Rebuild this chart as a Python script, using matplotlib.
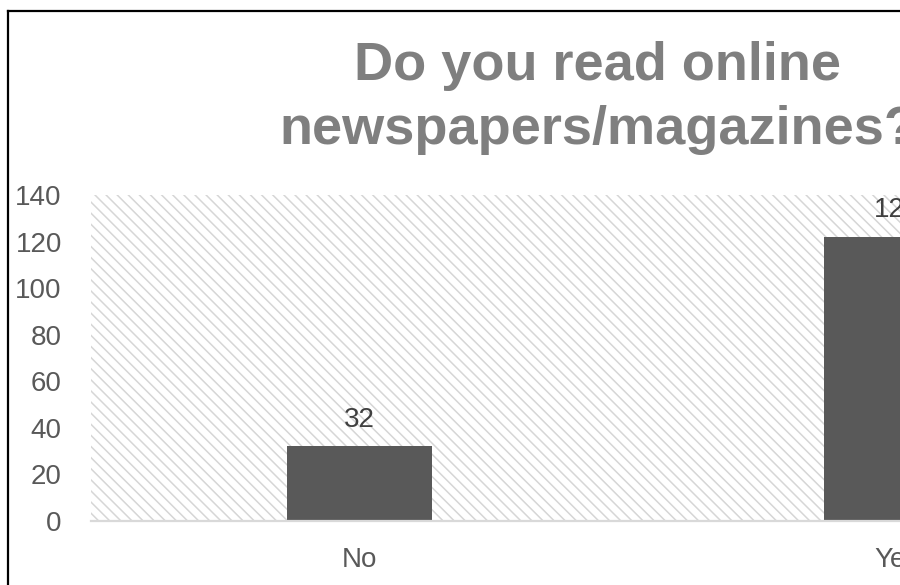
import matplotlib
matplotlib.use("Agg")
import matplotlib.pyplot as plt
from matplotlib.lines import Line2D

# Survey answers and counts
categories = ["No", "Yes"]
counts = [32, 122]
title_text = "Do you read online\nnewspapers/magazines?"
y_ticks = [0, 20, 40, 60, 80, 100, 120, 140]

plt.rcParams["font.family"] = ["Liberation Sans", "DejaVu Sans"]
plt.rcParams["hatch.color"] = "#d6d6d6"
plt.rcParams["hatch.linewidth"] = 1.1

fig = plt.figure(figsize=(9, 5.85), dpi=100)
fig.patch.set_facecolor("white")

# Plot area is wider than the canvas; the right part runs off the edge
ax = fig.add_axes([91 / 900, 1 - 521 / 585, 1074 / 900, 326 / 585])
ax.set_facecolor("white")
ax.patch.set_hatch("\\\\\\")
ax.patch.set_edgecolor("#d6d6d6")
ax.patch.set_linewidth(0)

x = list(range(len(categories)))
bars = ax.bar(x, counts, width=0.27, color="#595959", zorder=3)

for xi, v in zip(x, counts):
    ax.annotate(str(v), xy=(xi, v), xytext=(0, 10), textcoords="offset points",
                ha="center", va="bottom", fontsize=20, color="#404040", zorder=4)

ax.set_xlim(-0.5, len(categories) - 0.5)
ax.set_ylim(0, 140)
ax.set_yticks(y_ticks)
ax.set_yticklabels([str(t) for t in y_ticks])
ax.set_xticks(x)
ax.set_xticklabels(categories)
ax.tick_params(axis="y", length=0, pad=21, labelsize=20, labelcolor="#595959")
ax.tick_params(axis="x", length=0, pad=19, labelsize=20, labelcolor="#595959")

for side in ("left", "right", "top"):
    ax.spines[side].set_visible(False)
ax.spines["bottom"].set_color("#d9d9d9")
ax.spines["bottom"].set_linewidth(1.6)
ax.spines["bottom"].set_zorder(5)

fig.text(598 / 900, 1 - 41 / 585, title_text, ha="center", va="top",
         fontsize=39, fontweight="bold", color="#7f7f7f", linespacing=1.36)

# Chart frame (left and top edges)
fig.add_artist(Line2D([7.5 / 900, 7.5 / 900], [0, 1 - 11 / 585], color="black",
                      linewidth=1.6, transform=fig.transFigure))
fig.add_artist(Line2D([7.5 / 900, 1.2], [1 - 11 / 585, 1 - 11 / 585], color="black",
                      linewidth=1.6, transform=fig.transFigure))

fig.savefig("out.png", dpi=100)
